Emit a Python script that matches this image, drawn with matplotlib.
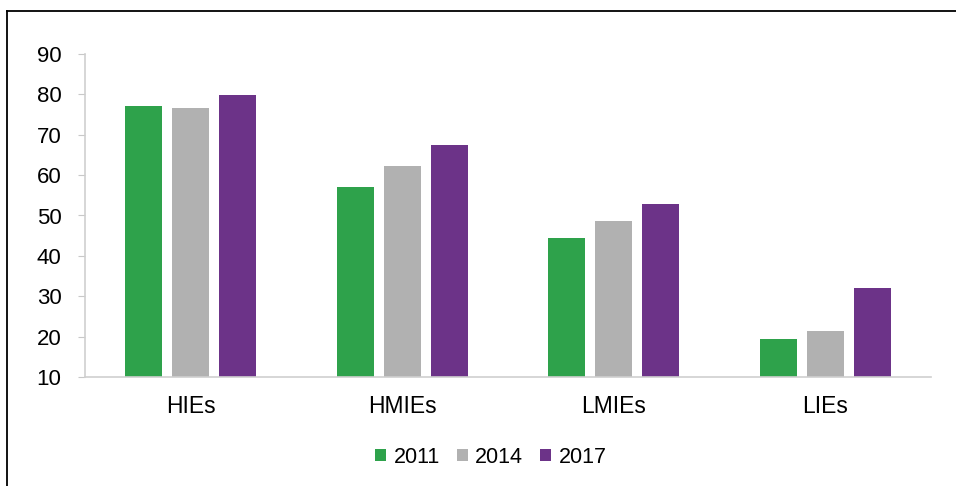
import matplotlib.pyplot as plt
from matplotlib.lines import Line2D
import numpy as np

plt.rcParams['font.family'] = ['Liberation Sans', 'DejaVu Sans']

# Daten
categories = ["HIEs", "HMIEs", "LMIEs", "LIEs"]
years = ["2011", "2014", "2017"]
v2011 = [77.1, 57.0, 44.4, 19.4]
v2014 = [76.6, 62.2, 48.6, 21.3]
v2017 = [79.8, 67.4, 52.8, 32.0]
colors = ["#2ea24b", "#b1b1b1", "#6c3388"]

fig = plt.figure(figsize=(9.56, 4.86), dpi=100)
ax = fig.add_axes([85 / 956, 1 - 377 / 486, 846 / 956, 323 / 486])

x = np.arange(len(categories))
w = 0.175
step = 0.222
for i, (vals, lab) in enumerate(zip([v2011, v2014, v2017], years)):
    ax.bar(x + (i - 1) * step, vals, width=w, color=colors[i], label=lab,
           bottom=0, zorder=2)

ax.set_xlim(-0.5, 3.5)
ax.set_ylim(10, 90)
ax.set_yticks(range(10, 91, 10))
ax.set_xticks(x)
ax.set_xticklabels(categories)
ax.tick_params(axis='y', length=5, color="#c8c8c8", labelsize=16, pad=12)
ax.tick_params(axis='x', length=0, labelsize=16.5, pad=13)
for s in ["top", "right"]:
    ax.spines[s].set_visible(False)
for s in ["left", "bottom"]:
    ax.spines[s].set_color("#cfcfcf")
    ax.spines[s].set_linewidth(1.2)

leg = fig.legend(loc="center", bbox_to_anchor=(491 / 956, 1 - 457 / 486), ncol=3,
                 frameon=False, fontsize=15.5, handlelength=0.5, handleheight=0.5,
                 handletextpad=0.35, columnspacing=0.8)

# Rahmen oben und links
fig.add_artist(Line2D([7 / 956, 1], [1 - 11 / 486, 1 - 11 / 486],
                      transform=fig.transFigure, color="black", lw=1.3))
fig.add_artist(Line2D([7 / 956, 7 / 956], [0, 1 - 11 / 486],
                      transform=fig.transFigure, color="black", lw=1.3))

fig.savefig("out.png", dpi=100)
